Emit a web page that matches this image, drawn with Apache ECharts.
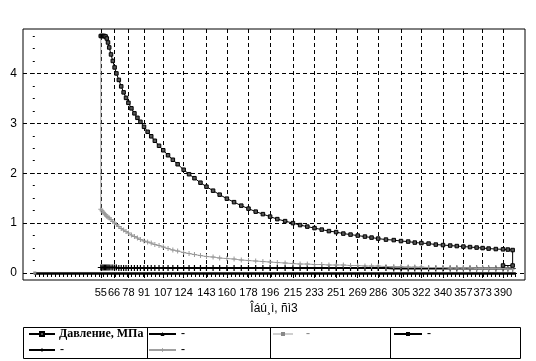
<!DOCTYPE html>
<html>
<head>
<meta charset="utf-8">
<script src="https://cdn.jsdelivr.net/npm/echarts@6/dist/echarts.min.js"></script>
<style>
html,body{margin:0;padding:0;background:#fff;}
#c{width:536px;height:361px;}
</style>
</head>
<body>
<div id="c"></div>
<script>
// x tick labels (volume)
const xLabels = [55, 66, 78, 91, 107, 124, 143, 160, 178, 196, 215, 233, 251, 269, 286, 305, 322, 340, 357, 373, 390];
const yLabels = [0, 1, 2, 3, 4];

// sample positions (volume)
const xs = [
  55, 56, 57, 58, 59, 60, 61, 62, 63.5, 65,
  66.5, 68, 70, 72, 74, 76, 78, 80.5, 83, 85.5,
  88, 91, 94, 97, 100, 103.5, 107, 111, 115, 119,
  124, 128.5, 133, 138, 143, 148.5, 154, 160, 166, 172,
  178, 184, 190, 196, 202, 208.5, 215, 221, 227, 233,
  239, 245, 251, 257, 263, 269, 275, 280.5, 286, 292.5,
  299, 305, 311, 316.5, 322, 328, 334, 340, 346, 351.5,
  357, 362.5, 368, 373, 378, 384, 390, 394, 398
];

// Давление, МПа
const pressure = [
  4.75, 4.75, 4.75, 4.75, 4.74, 4.70, 4.62, 4.52, 4.38, 4.25,
  4.12, 4.00, 3.87, 3.74, 3.62, 3.51, 3.41, 3.30, 3.20, 3.11,
  3.03, 2.93, 2.83, 2.74, 2.65, 2.55, 2.46, 2.36, 2.27, 2.18,
  2.07, 1.98, 1.90, 1.81, 1.73, 1.65, 1.57, 1.49, 1.42, 1.35,
  1.29, 1.23, 1.18, 1.13, 1.08, 1.04, 1.00, 0.96, 0.93, 0.90,
  0.87, 0.84, 0.82, 0.79, 0.77, 0.75, 0.73, 0.71, 0.69, 0.67,
  0.66, 0.64, 0.63, 0.61, 0.60, 0.59, 0.57, 0.56, 0.55, 0.54,
  0.53, 0.52, 0.51, 0.50, 0.49, 0.48, 0.475, 0.47, 0.46
];
const pressureTailX = [398, 390];
const pressureTailY = [0.15, 0.15];

// gray curve
const grayVals = [
  1.28, 1.25, 1.22, 1.19, 1.17, 1.14, 1.12, 1.10, 1.07, 1.03,
  1.00, 0.97, 0.93, 0.89, 0.86, 0.83, 0.80, 0.76, 0.73, 0.70,
  0.67, 0.64, 0.62, 0.60, 0.57, 0.55, 0.52, 0.49, 0.46, 0.44,
  0.41, 0.39, 0.37, 0.35, 0.33, 0.32, 0.30, 0.29, 0.28, 0.26,
  0.25, 0.24, 0.23, 0.22, 0.21, 0.20, 0.19, 0.18, 0.18, 0.17,
  0.17, 0.16, 0.16, 0.16, 0.15, 0.15, 0.14, 0.14, 0.14, 0.13,
  0.13, 0.13, 0.12, 0.12, 0.12, 0.11, 0.11, 0.11, 0.10, 0.10,
  0.10, 0.10, 0.09, 0.09, 0.09, 0.09, 0.09, 0.08, 0.08
];
const grayHeadX = 55;
const grayHeadY = 4.75;

// black band near zero
const bandVals = [
  0.11, 0.11, 0.11, 0.11, 0.11, 0.11, 0.11, 0.11, 0.11, 0.11,
  0.11, 0.11, 0.10, 0.10, 0.10, 0.10, 0.10, 0.10, 0.10, 0.10,
  0.10, 0.10, 0.10, 0.10, 0.10, 0.10, 0.10, 0.10, 0.10, 0.10,
  0.10, 0.10, 0.10, 0.10, 0.10, 0.10, 0.10, 0.10, 0.10, 0.10,
  0.10, 0.10, 0.10, 0.10, 0.10, 0.10, 0.10, 0.10, 0.10, 0.10,
  0.10, 0.10, 0.10, 0.10, 0.10, 0.10, 0.10, 0.10, 0.10, 0.10,
  0.09, 0.09, 0.09, 0.09, 0.09, 0.09, 0.09, 0.09, 0.09, 0.09,
  0.09, 0.09, 0.09, 0.09, 0.09, 0.09, 0.09, 0.09, 0.09
];

// single point at origin
const originX = [0];
const originY = [0];

const pressureData = xs.map((x, i) => [x, pressure[i]])
  .concat(pressureTailX.map((x, i) => [x, pressureTailY[i]]));
const grayData = [[grayHeadX, grayHeadY]].concat(xs.map((x, i) => [x, grayVals[i]]));
const bandData = xs.map((x, i) => [x, bandVals[i]]);
const originData = originX.map((x, i) => [x, originY[i]]);

const PLUS = 'path://M4,0 H6 V4 H10 V6 H6 V10 H4 V6 H0 V4 H4 Z';
const NARROW = "'Liberation Sans Narrow', 'Arial Narrow', 'Liberation Sans', Arial, sans-serif";

const chart = echarts.init(document.getElementById('c'), null, {renderer: 'canvas'});
const dash = {color: '#000', width: 1, type: [4, 3]};
const smallLegendText = {fontFamily: "'Liberation Serif', serif", fontSize: 12, color: '#000', fontWeight: 'bold'};
const legendBase = {itemHeight: 5, itemGap: 0, selectedMode: false, padding: 0};

chart.setOption({
  animation: false,
  backgroundColor: '#fff',
  grid: [
    {left: 23, right: 11, top: 29, bottom: 81, show: true, borderColor: '#000', borderWidth: 1, backgroundColor: 'transparent'},
    {left: 35, right: 21, top: 29, bottom: 81, show: false}
  ],
  xAxis: [
    {
      type: 'value', gridIndex: 0, min: -9.8, max: 408.3,
      axisLine: {show: false},
      axisTick: {show: true, customValues: xLabels, length: 5, lineStyle: {color: '#000'}},
      axisLabel: {customValues: xLabels, fontFamily: NARROW, fontSize: 11, color: '#000', margin: 7},
      splitLine: {show: true, lineStyle: dash},
      name: 'Îáú¸ì, ñì3', nameLocation: 'middle', nameGap: 20,
      nameTextStyle: {fontFamily: NARROW, fontSize: 12, color: '#000'}
    },
    {
      type: 'value', gridIndex: 1, min: 0, max: 400, interval: 10,
      axisLine: {show: true, lineStyle: {color: '#000', width: 2.5}},
      axisTick: {show: true, length: 4, lineStyle: {color: '#000'}},
      minorTick: {show: true, splitNumber: 3, length: 4, lineStyle: {color: '#000'}},
      axisLabel: {show: false},
      splitLine: {show: false}
    }
  ],
  yAxis: [
    {
      type: 'value', gridIndex: 0, min: -0.14, max: 4.89,
      axisLine: {show: false},
      axisTick: {show: true, customValues: yLabels, length: 3, lineStyle: {color: '#000'}},
      minorTick: {show: true, splitNumber: 4, length: 2, lineStyle: {color: '#000'}},
      axisLabel: {customValues: yLabels, fontFamily: "'Liberation Sans', Arial, sans-serif", fontSize: 12, color: '#000', margin: 6},
      splitLine: {show: true, lineStyle: dash}
    },
    {
      type: 'value', gridIndex: 1, min: -0.14, max: 4.89, show: false
    }
  ],
  legend: [
    Object.assign({left: 28, top: 328, data: ['Давление, МПа'], itemWidth: 26,
      textStyle: {fontFamily: "'Liberation Serif', serif", fontWeight: 'bold', fontSize: 12, color: '#000', padding: [0, 0, 0, -1]}}, legendBase),
    Object.assign({left: 148, top: 328, data: ['s2'], formatter: '-', itemWidth: 27, textStyle: smallLegendText}, legendBase),
    Object.assign({left: 28, top: 344, data: ['s3'], formatter: '-', itemWidth: 26, textStyle: smallLegendText}, legendBase),
    Object.assign({left: 148, top: 344, data: ['s4'], formatter: '-', itemWidth: 27, textStyle: smallLegendText}, legendBase),
    Object.assign({left: 272, top: 328, data: ['s5'], formatter: '-', itemWidth: 20,
      textStyle: {fontFamily: "'Liberation Serif', serif", fontSize: 12, color: '#888', fontWeight: 'bold', padding: [0, 0, 0, 8]}}, legendBase),
    Object.assign({left: 393, top: 328, data: ['s6'], formatter: '-', itemWidth: 28, textStyle: smallLegendText}, legendBase)
  ],
  graphic: [
    {type: 'rect', shape: {x: 23.5, y: 327.5, width: 497, height: 31}, style: {fill: 'none', stroke: '#000', lineWidth: 1}, silent: true},
    {type: 'line', shape: {x1: 147.5, y1: 327.5, x2: 147.5, y2: 358.5}, style: {stroke: '#000', lineWidth: 1}, silent: true},
    {type: 'line', shape: {x1: 270.5, y1: 327.5, x2: 270.5, y2: 358.5}, style: {stroke: '#000', lineWidth: 1}, silent: true},
    {type: 'line', shape: {x1: 390.5, y1: 327.5, x2: 390.5, y2: 358.5}, style: {stroke: '#000', lineWidth: 1}, silent: true}
  ],
  series: [
    {
      name: 'Давление, МПа', type: 'line', xAxisIndex: 0, yAxisIndex: 0, data: pressureData,
      symbol: 'rect', symbolSize: 3.5, showSymbol: true,
      lineStyle: {color: '#000', width: 1}, itemStyle: {color: '#555', borderColor: '#000', borderWidth: 1},
      z: 5
    },
    {
      name: 's2', type: 'line', xAxisIndex: 0, yAxisIndex: 0, data: [],
      symbol: 'triangle', symbolSize: 3,
      lineStyle: {color: '#000', width: 1}, itemStyle: {color: '#000'}
    },
    {
      name: 's3', type: 'line', xAxisIndex: 0, yAxisIndex: 0, data: bandData,
      symbol: PLUS, symbolSize: 6,
      lineStyle: {color: '#000', width: 2}, itemStyle: {color: '#000'}, z: 3
    },
    {
      name: 's4', type: 'line', xAxisIndex: 0, yAxisIndex: 0, data: grayData,
      symbol: PLUS, symbolSize: 5,
      lineStyle: {color: '#a0a0a0', width: 1}, itemStyle: {color: '#999'}, z: 4
    },
    {
      name: 's5', type: 'line', xAxisIndex: 0, yAxisIndex: 0, data: originData,
      symbol: 'rect', symbolSize: 3,
      lineStyle: {color: '#cfcfcf', width: 1}, itemStyle: {color: '#888'}
    },
    {
      name: 's6', type: 'line', xAxisIndex: 0, yAxisIndex: 0, data: [],
      symbol: 'rect', symbolSize: 4,
      lineStyle: {color: '#000', width: 1}, itemStyle: {color: '#000'}
    }
  ]
});
</script>
</body>
</html>
